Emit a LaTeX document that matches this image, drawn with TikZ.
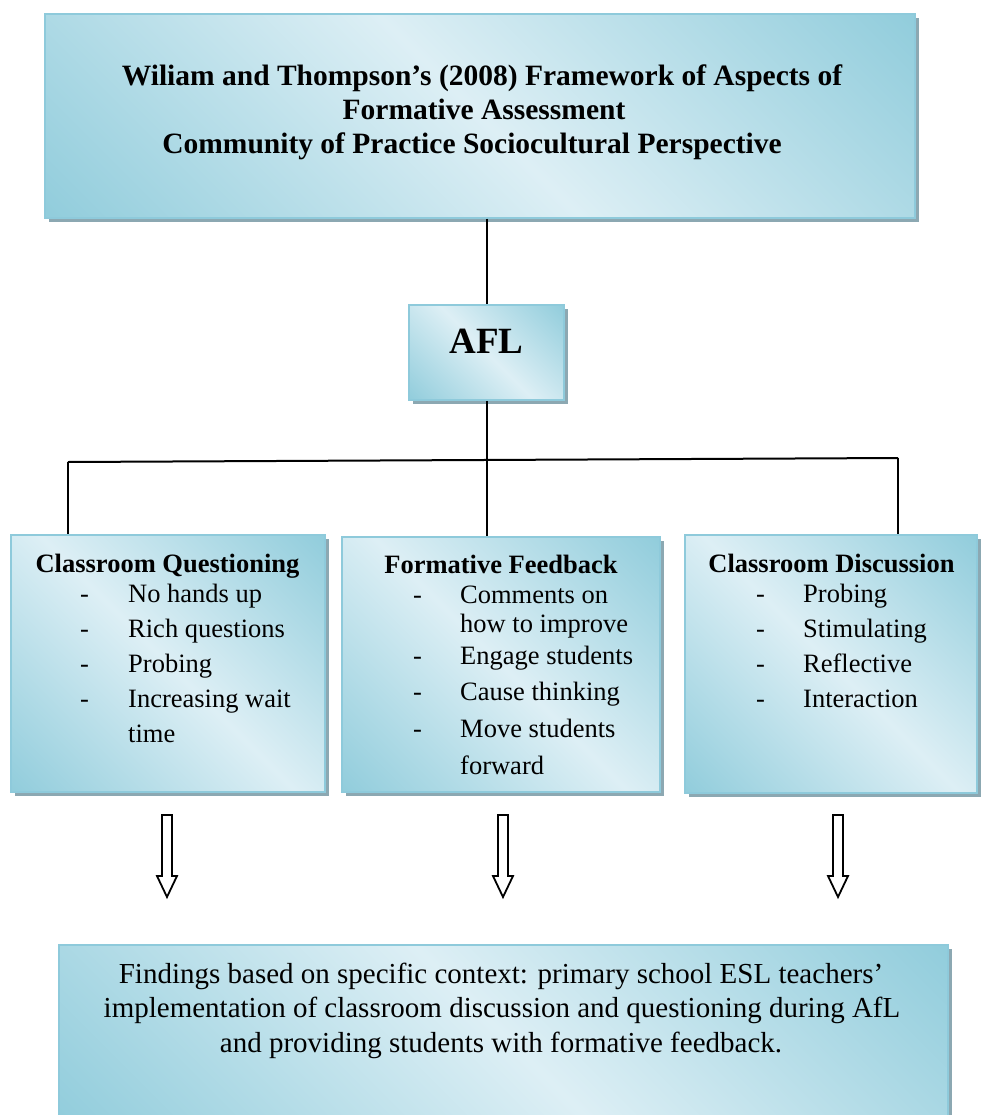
\documentclass[tikz,border=0pt]{standalone}
\usepackage{fontspec}
\setmainfont{Liberation Serif}
\usetikzlibrary{shadows}

\definecolor{boxdark}{RGB}{146,205,220}
\definecolor{boxlight}{RGB}{221,239,245}
\definecolor{boxedge}{RGB}{142,202,219}
\definecolor{boxshadow}{RGB}{140,168,178}

% dark - light - dark band, used diagonally across each panel
\pgfdeclarehorizontalshading{reflectblue}{100bp}{%
  color(0bp)=(boxdark); color(15bp)=(boxdark); color(50bp)=(boxlight);
  color(85bp)=(boxdark); color(100bp)=(boxdark)}

\tikzset{
  panel/.style={rectangle, inner sep=0pt, draw=boxedge, line width=1.5pt,
    shading=reflectblue, shading angle=45,
    drop shadow={shadow xshift=4pt, shadow yshift=-4pt, fill=boxshadow, opacity=1}},
  link/.style={line width=2pt, black},
  titletext/.style={font=\fontsize{29.5}{34}\selectfont\bfseries, inner sep=0pt, anchor=base},
  afltext/.style={font=\fontsize{37}{40}\selectfont\bfseries, inner sep=0pt, anchor=base},
  headtext/.style={font=\fontsize{26.5}{35}\selectfont\bfseries, inner sep=0pt, anchor=base},
  itemtext/.style={font=\fontsize{26.5}{35}\selectfont, inner sep=0pt, anchor=base west},
  findtext/.style={font=\fontsize{29}{34}\selectfont, inner sep=0pt, anchor=base},
  hollow/.style={draw=black, line width=1.8pt, fill=white, line join=miter},
  downarrow/.pic={\draw[hollow] (-5,0) -- (5,0) -- (5,61) -- (10,61) -- (0,82)
      -- (-10,61) -- (-5,61) -- cycle;}
}

\begin{document}
\begin{tikzpicture}[x=1pt, y=-1pt]
\useasboundingbox (0,0) rectangle (981,1115);

% panels
\node[panel, minimum width=870pt, minimum height=204pt] (top) at (480,116) {};
\node[panel, minimum width=155pt, minimum height=95pt] (afl) at (486.5,352.5) {};
\node[panel, minimum width=314pt, minimum height=257pt] (cq) at (168,663.5) {};
\node[panel, minimum width=318pt, minimum height=255pt] (fb) at (501,664.5) {};
\node[panel, minimum width=292pt, minimum height=258pt] (cd) at (831,664) {};
\node[panel, minimum width=889pt, minimum height=180pt] (find) at (503.5,1035) {};

% framework title
\node[titletext] (t1) at (482,86) {Wiliam and Thompson’s (2008) Framework of Aspects of};
\node[titletext] (t2) at (484,120) {Formative Assessment};
\node[titletext] (t3) at (472,154) {Community of Practice Sociocultural Perspective};

\node[afltext] (afllabel) at (486.5,353) {AFL};

% classroom questioning
\node[headtext] (cqh) at (167.5,572) {Classroom Questioning};
\node[itemtext] (cq1) at (80,602) {\makebox[48pt][l]{-}No hands up};
\node[itemtext] (cq2) at (80,637) {\makebox[48pt][l]{-}Rich questions};
\node[itemtext] (cq3) at (80,672) {\makebox[48pt][l]{-}Probing};
\node[itemtext] (cq4) at (80,707) {\makebox[48pt][l]{-}Increasing wait};
\node[itemtext] (cq5) at (128,742) {time};

% formative feedback
\node[headtext] (fbh) at (501,573) {Formative Feedback};
\node[itemtext] (fb1) at (413,603) {\makebox[47pt][l]{-}Comments on};
\node[itemtext] (fb2) at (460,632) {how to improve};
\node[itemtext] (fb3) at (413,664) {\makebox[47pt][l]{-}Engage students};
\node[itemtext] (fb4) at (413,700) {\makebox[47pt][l]{-}Cause thinking};
\node[itemtext] (fb5) at (413,737) {\makebox[47pt][l]{-}Move students};
\node[itemtext] (fb6) at (460,774) {forward};

% classroom discussion
\node[headtext] (cdh) at (831.5,572) {Classroom Discussion};
\node[itemtext] (cd1) at (756,602) {\makebox[47pt][l]{-}Probing};
\node[itemtext] (cd2) at (756,637) {\makebox[47pt][l]{-}Stimulating};
\node[itemtext] (cd3) at (756,672) {\makebox[47pt][l]{-}Reflective};
\node[itemtext] (cd4) at (756,707) {\makebox[47pt][l]{-}Interaction};

% findings
\node[findtext] (f1) at (501,983) {Findings based on specific context: primary school ESL teachers’};
\node[findtext] (f2) at (502,1017) {implementation of classroom discussion and questioning during AfL};
\node[findtext] (f3) at (501,1052) {and providing students with formative feedback.};

% tree connectors
\coordinate (barL) at (68,462);
\coordinate (barR) at (898,458);
\draw[link] (afl.north |- top.south) -- (afl.north);
\draw[link] (afl.south) -- (afl.south |- fb.north);
\draw[link] (barL) -- (barR);
\draw[link] (barL) -- (barL |- cq.north);
\draw[link] (barR) -- (barR |- cd.north);

% hollow arrows towards the findings
\pic (a1) at (167,815) {downarrow};
\pic (a2) at (503,815) {downarrow};
\pic (a3) at (838,815) {downarrow};
\end{tikzpicture}
\end{document}
